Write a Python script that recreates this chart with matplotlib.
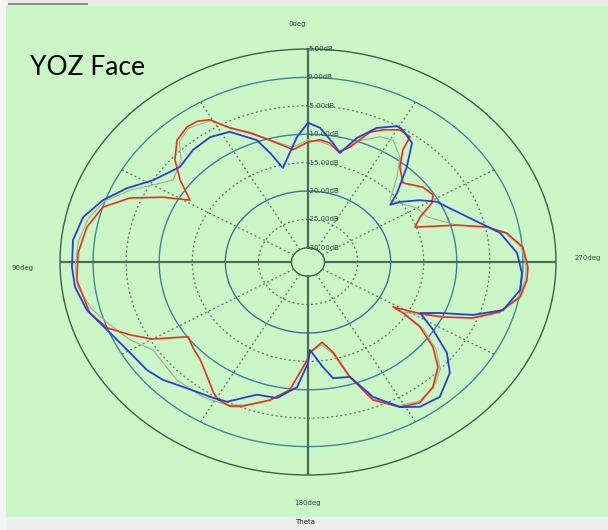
import numpy as np
import matplotlib.pyplot as plt
from matplotlib.patches import Rectangle

# radiation pattern, theta in deg (0 at top, counter clockwise), gain in dB
red_theta = [0, 6.5, 15, 21, 26.6, 30.6, 34, 37.6, 42.7, 48.2, 53.3, 58.6, 62.5, 67.3, 72.7,
             79.6, 87.4, 95.2, 105.2, 110.9, 115.5, 119.9, 126, 130.7, 136.6, 143, 147.9, 150.7,
             155, 158.8, 166.7, 173, 179.5, 181.1, 188.5, 193.4, 197.4, 202, 208.6, 214.3, 220.6,
             226.7, 231.6, 236, 238, 238.4, 241.5, 244.6, 248.4, 253.1, 259.1, 264.5, 268.5,
             274.6, 279.6, 282.8, 286.1, 290.8, 295, 299, 302, 307.2, 314.1, 320.2, 324, 325,
             329.1, 334, 337.7, 342.6, 346.5, 351, 355.2, 360]
red_db = [-11.4, -12.6, -10.3, -8.2, -6.1, -3.4, -2.6, -2.5, -3.3, -5.5, -8.4, -11.6, -7.8, -3.3, 0.0,
          1.5, 2.3, 2.6, 1.7, 0.0, -2.7, -5.3, -10.1, -9.5, -8.8, -7.2, -5.5, -4.7,
          -4.5, -5.3, -7.5, -9.8, -15.2, -16.6, -18.2, -16.2, -11.3, -6.3, -3.4, -2.5, -3.5,
          -5.5, -8.4, -12.1, -15.6, -17.4, -13.7, -9.9, -5.7, -2.2, 0.15, 0.76, 0.77,
          0.1, -2.0, -4.7, -9.1, -15.2, -13.8, -11.1, -10.2, -10.7, -12.5, -10.8, -8.1, -5.6,
          -5.4, -6.6, -7.8, -11.3, -12.6, -11.3, -10.9, -11.4]

blue_theta = [0, 4.3, 12.9, 16.6, 19.8, 27.3, 33.9, 41.4, 49.2, 58.4, 64.6, 70.6, 76.9, 83.8,
              91.4, 97.1, 104.2, 111.5, 120.7, 128, 133.4, 140.5, 149, 153.5, 161.7, 168.9,
              175.7, 180, 181.1, 186.9, 190.5, 197.4, 202.5, 208.6, 213.6, 220, 227.7, 232.7,
              237.7, 242.1, 245.8, 249.5, 254, 261.3, 266.6, 272.9, 280, 284.8, 292.6, 298.5,
              302.8, 307.2, 309, 312, 318.2, 323.1, 328.3, 330.6, 336.2, 341.2, 345.9, 349.8,
              355.6, 360]
blue_db = [-8.0, -10.4, -15.5, -12.5, -9.7, -6.7, -6.0, -6.2, -6.9, -5.0, -2.2, 0.35, 2.4, 3.25,
           3.2, 3.0, 2.0, 0.15, -1.2, -1.6, -2.3, -3.7, -4.6, -5.0, -7.9, -8.1,
           -10.4, -14.7, -17.0, -13.9, -11.7, -11.3, -6.8, -3.4, -1.9, -1.5, -3.5, -6.1,
           -10.1, -13.3, -10.6, -5.9, -1.8, -0.06, -0.1, -0.85, -3.0, -5.6, -8.7, -10.3,
           -12.4, -15.0, -16.5, -14.4, -10.1, -6.3, -5.2, -5.05, -6.7, -9.4, -12.7, -11.2,
           -8.8, -8.0]

gray_theta = [0, 6.5, 15, 21, 26.6, 30.6, 37.6, 42.7, 47, 54.7, 60, 64.8, 70.6, 77, 84, 91, 97,
              104, 110, 117, 123.5, 129, 136.4, 146.3, 154, 159, 167, 173, 179.5, 181, 188, 193,
              197, 202, 208.6, 214.3, 220.6, 226.7, 231.6, 236, 238.5, 241.5, 244.6, 248.4,
              253.1, 259.1, 264.5, 268.5, 274.6, 279.6, 282.8, 286, 293.7, 300, 306, 311.3, 318,
              323, 329, 333.7, 340, 346, 349.4, 355, 360]
gray_db = [-11.0, -12.2, -10.2, -8.0, -6.0, -3.6, -2.8, -3.8, -6.3, -7.5, -5.4, -2.8, 0.0, 1.6,
           2.4, 2.7, 2.6, 1.3, -0.5, -2.3, -4.4, -4.3, -3.8, -3.9, -4.5, -5.5, -7.6, -9.8,
           -15.0, -16.5, -17.8, -16.0, -11.5, -6.6, -3.7, -2.8, -3.3, -5.0, -7.8, -11.5,
           -15.5, -13.0, -9.9, -5.9, -2.4, 0.0, 0.5, 0.5, -0.1, -2.2, -4.8, -9.0, -12.8,
           -13.5, -15.0, -16.0, -12.4, -9.4, -7.5, -7.9, -9.8, -12.3, -11.9, -11.2, -11.0]

ring_db = [5, 0, -5, -10, -15, -20, -25, -30]
ring_labels = ["5.00dB", "0.00dB", "-5.00dB", "-10.00dB", "-15.00dB", "-20.00dB",
               "-25.00dB", "-30.00dB"]
angle_labels = ["0deg", "90deg", "180deg", "270deg"]

bg = "#cbf7c7"
fig = plt.figure(figsize=(6.08, 5.30), dpi=100, facecolor=bg)

ax = fig.add_axes([60 / 608, 55 / 530, 496 / 608, 426 / 530], projection="polar")
ax.set_facecolor(bg)
ax.set_aspect("auto")
ax.set_theta_zero_location("N")
ax.set_theta_direction(1)
ax.set_rlim(-32.5, 5)
ax.grid(False)
ax.set_xticks([])
ax.set_yticks([])
ax.spines["polar"].set_color("#3d5e4c")
ax.spines["polar"].set_linewidth(1.0)

dots = (0, (1.5, 2.2))
full = np.linspace(0, 2 * np.pi, 400)
ring_style = {0: ("#3d8a98", "-", 1.0), -5: ("#557766", dots, 0.9), -10: ("#3f80a0", "-", 1.0),
              -15: ("#557766", dots, 0.9), -20: ("#3f6f9a", "-", 1.0), -25: ("#557766", dots, 0.9),
              -30: ("#3d5e4c", "-", 1.0)}
for r, (c, ls, lw) in ring_style.items():
    ax.plot(full, np.full_like(full, r), color=c, ls=ls, lw=lw, zorder=1)

# dotted spokes every 30 deg
for a in range(30, 360, 30):
    if a % 90 == 0:
        continue
    t = np.radians(a)
    ax.plot([t, t], [-30, 0], color="#557766", ls=dots, lw=0.9, zorder=1)
# solid main axes
for a in [0, 90, 180, 270]:
    t = np.radians(a)
    ax.plot([t, t], [-30, 5], color="#4a6e58", lw=1.6, zorder=1)

ax.plot(np.radians(gray_theta), gray_db, color="#9fb08c", lw=0.8, zorder=3)
ax.plot(np.radians(red_theta), red_db, color="#e8321e", lw=1.2, zorder=4, solid_joinstyle="round")
ax.plot(np.radians(blue_theta), blue_db, color="#2a3fd6", lw=1.3, zorder=5, solid_joinstyle="round")

for r, lab in zip(ring_db, ring_labels):
    ax.text(0, r, lab, fontsize=5, color="#2f4f40", ha="left", va="center",
            transform=ax.transData, zorder=6)

fig.text(297 / 608, 1 - 24 / 530, angle_labels[0], fontsize=5, color="#2f4f40", ha="center", va="center")
fig.text(22 / 608, 1 - 268 / 530, angle_labels[1], fontsize=5, color="#2f4f40", ha="center", va="center")
fig.text(307 / 608, 1 - 503 / 530, angle_labels[2], fontsize=5, color="#2f4f40", ha="center", va="center")
fig.text(588 / 608, 1 - 258 / 530, angle_labels[3], fontsize=5, color="#2f4f40", ha="center", va="center")

# frame strips of the screenshot
fig.patches.append(Rectangle((0, 1 - 6 / 530), 1, 6 / 530, transform=fig.transFigure,
                             facecolor="#ececec", edgecolor="none"))
fig.patches.append(Rectangle((8 / 608, 1 - 5 / 530), 80 / 608, 2 / 530, transform=fig.transFigure,
                             facecolor="#8a8a8a", edgecolor="none"))
fig.patches.append(Rectangle((0, 0), 1, 13 / 530, transform=fig.transFigure,
                             facecolor="#eeeeee", edgecolor="none"))
fig.patches.append(Rectangle((0, 0), 6 / 608, 1, transform=fig.transFigure,
                             facecolor="#f4f4f4", edgecolor="none"))
fig.text(305 / 608, 1 - 522 / 530, "Theta", fontsize=5, color="#222222", ha="center", va="center")

fig.text(30 / 608, 1 - 75 / 530, "YOZ Face", fontsize=19, family=["Lato", "DejaVu Sans"],
         color="black", ha="left", va="baseline")

fig.savefig("out.png", dpi=100, facecolor=bg)
